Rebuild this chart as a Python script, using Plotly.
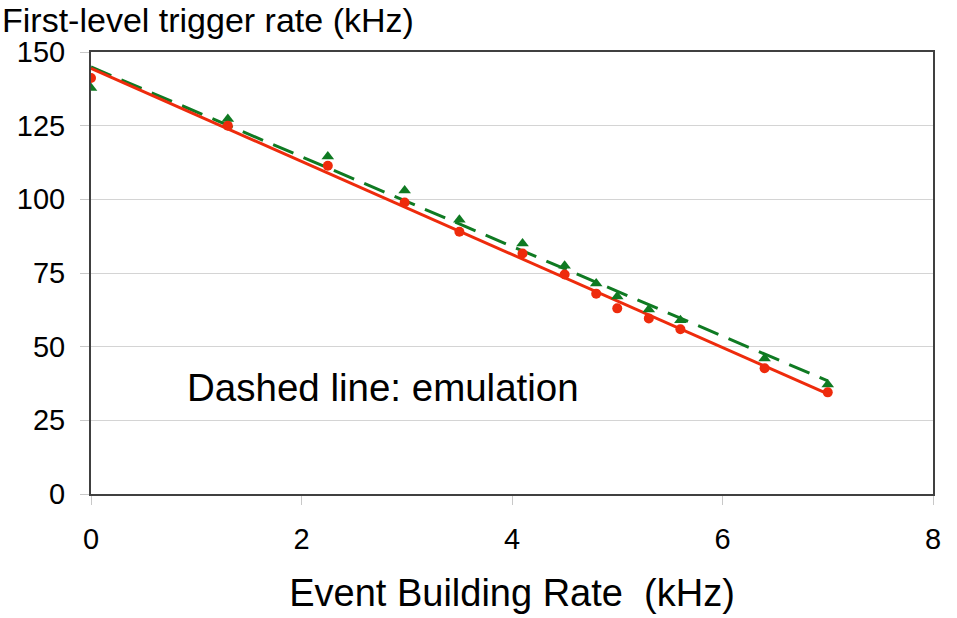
import numpy as np
import plotly.graph_objects as go

# Event building rate (kHz) at each measurement
eb_rate = [0.0, 1.3, 2.25, 2.98, 3.5, 4.1, 4.5, 4.8, 5.0, 5.3, 5.6, 6.4, 7.0]
# Measured first-level trigger rate (kHz)
measured = [141.2, 125.0, 111.4, 98.9, 89.0, 81.6, 74.5, 68.0, 63.0, 59.6, 55.9, 42.7, 34.5]
# Emulated first-level trigger rate (kHz)
emulated = [137.8, 127.3, 114.5, 103.0, 93.1, 85.0, 77.5, 71.4, 67.0, 62.6, 59.0, 46.0, 37.2]

y_ticks = [0, 25, 50, 75, 100, 125, 150]
x_ticks = [0, 2, 4, 6, 8]

RED = "#ee2b0c"
GREEN = "#0f7a22"
FONT = "Liberation Sans, Arial, sans-serif"

# Linear trend lines over the measured range
x_fit = np.array([min(eb_rate), max(eb_rate)])
red_fit = np.polyval(np.polyfit(eb_rate, measured, 1), x_fit)
green_fit = np.polyval(np.polyfit(eb_rate, emulated, 1), x_fit)

fig = go.Figure()
fig.add_trace(go.Scatter(x=x_fit, y=green_fit, mode="lines",
                         line=dict(color=GREEN, width=3, dash="22px,11px"),
                         hoverinfo="skip"))
fig.add_trace(go.Scatter(x=x_fit, y=red_fit, mode="lines",
                         line=dict(color=RED, width=3), hoverinfo="skip"))
fig.add_trace(go.Scatter(x=eb_rate, y=emulated, mode="markers", name="emulation",
                         marker=dict(symbol="triangle-up", size=11, color=GREEN)))
fig.add_trace(go.Scatter(x=eb_rate, y=measured, mode="markers", name="measurement",
                         marker=dict(symbol="circle", size=10, color=RED)))

fig.update_layout(
    width=957, height=618,
    margin=dict(l=91, r=24, t=52, b=124),
    paper_bgcolor="white", plot_bgcolor="white",
    showlegend=False,
    font=dict(family=FONT, color="black", size=28),
    xaxis=dict(range=[0, 8], tickvals=x_ticks, ticktext=[str(v) for v in x_ticks],
               automargin=False,
               showgrid=False, zeroline=False,
               showline=True, linecolor="#404040", linewidth=2, mirror=True,
               ticks="outside", ticklen=9, tickcolor="#c8c8c8", tickwidth=1,
               tickfont=dict(size=29), ticklabelstandoff=9,
               title=dict(text="Event Building Rate  (kHz)",
                          font=dict(size=38), standoff=26)),
    yaxis=dict(range=[0, 150], tickvals=y_ticks, ticktext=[str(v) for v in y_ticks],
               automargin=False,
               showgrid=True, gridcolor="#d4d4d4", gridwidth=1, zeroline=False,
               showline=True, linecolor="#404040", linewidth=2, mirror=True,
               ticks="outside", ticklen=9, tickcolor="#c8c8c8", tickwidth=1,
               tickfont=dict(size=29), ticklabelstandoff=9),
    annotations=[
        dict(text="First-level trigger rate (kHz)", xref="paper", yref="paper",
             x=0, y=1, xanchor="left", yanchor="middle", xshift=-91, yshift=32,
             showarrow=False, font=dict(size=34)),
        dict(text="Dashed line: emulation", xref="x", yref="y",
             x=2.77, y=36.3, xanchor="center", yanchor="middle",
             showarrow=False, font=dict(size=38.5)),
    ],
)

fig.write_html("out.html")
